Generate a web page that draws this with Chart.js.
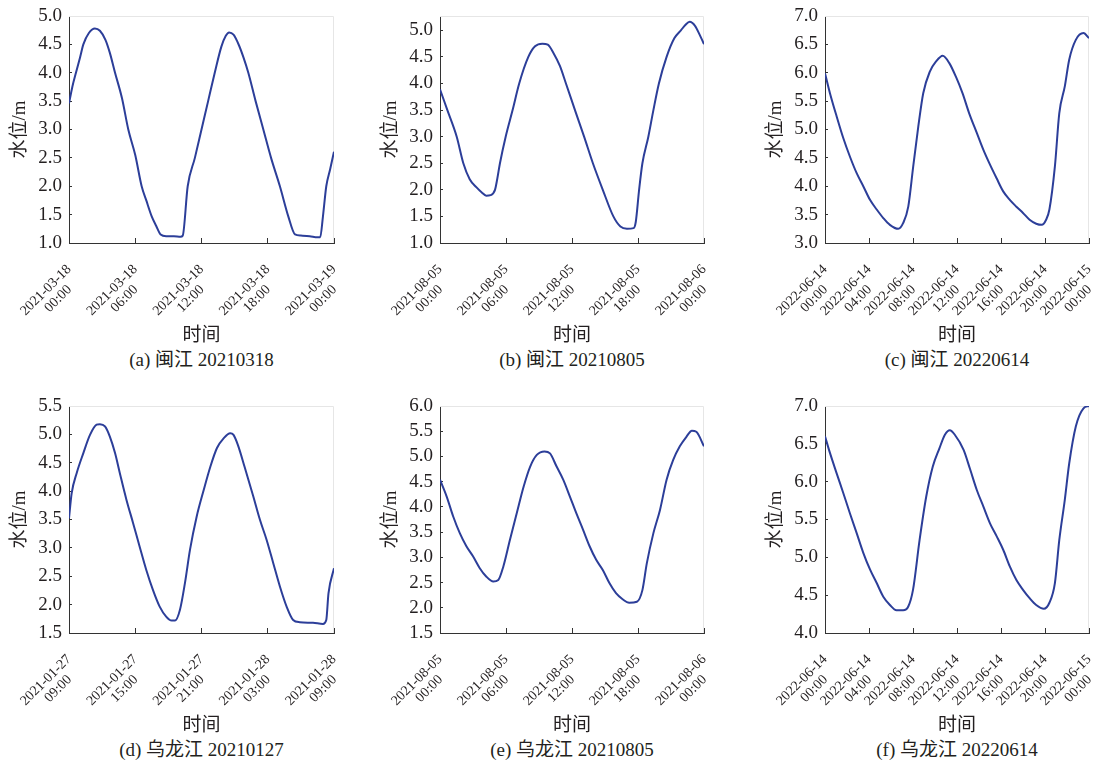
<!DOCTYPE html>
<html>
<head>
<meta charset="utf-8">
<script src="https://cdn.jsdelivr.net/npm/chart.js@4.4.0/dist/chart.umd.min.js"></script>
<style>
  html, body { margin: 0; padding: 0; background: #fff; overflow: hidden; }
  canvas { position: absolute; }
  .cap {
    position: absolute;
    width: 300px;
    margin-left: -150px;
    text-align: center;
    font-family: 'Liberation Serif', 'Noto Sans CJK SC', serif;
    font-size: 19px;
    line-height: 22px;
    color: #231f20;
  }
  #warm { position: absolute; left: -999px; top: 0; font-family: 'Liberation Serif'; }
</style>
</head>
<body>
<span id="warm">2021-03-18 00:00 水位/m 时间</span>
<script>
// 数据：[小时, 水位(m)]
const seriesA = [[0,3.46],[0.3,3.75],[0.63,4.0],[1.0,4.27],[1.3,4.5],[1.8,4.7],[2.35,4.78],[2.8,4.74],[3.3,4.58],[3.7,4.35],[4.17,4.0],[4.8,3.55],[5.37,3.0],[6.0,2.55],[6.58,2.0],[7.0,1.75],[7.49,1.47],[7.9,1.3],[8.3,1.15],[8.8,1.12],[9.5,1.12],[10.1,1.11],[10.3,1.13],[10.75,2.0],[11.4,2.5],[12.0,3.0],[12.6,3.5],[13.2,4.0],[13.8,4.46],[14.2,4.65],[14.5,4.71],[14.9,4.67],[15.4,4.48],[15.8,4.27],[16.24,4.0],[16.9,3.5],[17.6,3.0],[18.3,2.5],[19.1,2.0],[19.86,1.47],[20.47,1.15],[21.0,1.13],[21.8,1.12],[22.5,1.1],[22.75,1.1],[23.0,1.47],[23.3,2.0],[23.65,2.3],[24,2.61]];
const seriesB = [[0,3.89],[0.67,3.5],[1.52,3.0],[2.12,2.5],[2.7,2.2],[3.3,2.05],[3.8,1.95],[4.2,1.89],[4.6,1.9],[5.0,2.0],[5.2,2.2],[5.45,2.5],[5.97,3.0],[6.6,3.5],[7.2,4.0],[8.03,4.5],[8.64,4.7],[9.3,4.75],[9.8,4.73],[10.3,4.58],[10.9,4.33],[11.45,4.0],[12.27,3.5],[13.1,3.0],[13.9,2.5],[14.8,2.0],[15.76,1.5],[16.4,1.31],[17.0,1.27],[17.6,1.28],[17.8,1.4],[18.1,2.0],[18.4,2.5],[18.94,3.0],[19.4,3.5],[19.9,4.0],[20.6,4.5],[21.3,4.85],[21.9,5.0],[22.3,5.1],[22.7,5.16],[23.2,5.08],[23.6,4.92],[24,4.74]];
const seriesC = [[0,5.99],[0.45,5.64],[1.06,5.23],[1.66,4.85],[2.27,4.52],[2.88,4.23],[3.48,4.0],[4.09,3.76],[4.7,3.59],[5.3,3.44],[5.9,3.32],[6.66,3.25],[7.1,3.35],[7.57,3.64],[8.02,4.35],[8.48,5.05],[8.93,5.64],[9.53,6.02],[10.1,6.2],[10.7,6.3],[11.3,6.17],[11.9,5.93],[12.5,5.64],[13.1,5.29],[13.8,4.94],[14.4,4.64],[15.0,4.38],[15.6,4.14],[16.2,3.91],[16.8,3.76],[17.4,3.64],[18.0,3.53],[18.6,3.41],[19.2,3.34],[19.7,3.32],[20.1,3.41],[20.4,3.59],[20.9,4.35],[21.3,5.29],[21.8,5.76],[22.2,6.23],[22.8,6.58],[23.5,6.7],[24,6.61]];
const seriesD = [[0,3.52],[0.24,3.96],[0.7,4.32],[1.3,4.67],[1.9,4.99],[2.5,5.17],[2.8,5.18],[3.26,5.14],[3.7,4.96],[4.17,4.67],[4.6,4.32],[5.2,3.85],[5.8,3.44],[6.4,3.02],[7.0,2.61],[7.6,2.26],[8.2,1.97],[8.8,1.79],[9.3,1.72],[9.6,1.72],[10.05,1.91],[10.5,2.38],[10.96,2.97],[11.56,3.55],[12.2,4.02],[12.8,4.43],[13.4,4.76],[14.0,4.93],[14.6,5.02],[14.9,4.99],[15.3,4.81],[15.9,4.43],[16.7,3.9],[17.3,3.49],[17.9,3.14],[18.5,2.73],[19.1,2.32],[19.7,1.97],[20.3,1.73],[20.9,1.69],[22.1,1.68],[23.0,1.66],[23.3,1.73],[23.5,2.2],[24,2.64]];
const seriesE = [[0,4.54],[0.6,4.21],[1.2,3.81],[1.8,3.48],[2.4,3.22],[3.0,3.02],[3.6,2.79],[4.2,2.62],[4.85,2.52],[5.3,2.55],[5.76,2.82],[6.36,3.35],[6.97,3.87],[7.6,4.4],[8.2,4.8],[8.8,5.03],[9.5,5.1],[10.0,5.06],[10.6,4.8],[11.2,4.54],[11.8,4.21],[12.4,3.87],[13.0,3.55],[13.6,3.22],[14.2,2.95],[14.8,2.75],[15.4,2.49],[16.0,2.29],[16.6,2.17],[17.2,2.1],[17.9,2.12],[18.4,2.35],[18.8,2.88],[19.4,3.48],[20.0,3.94],[20.6,4.54],[21.2,4.93],[21.8,5.2],[22.4,5.39],[22.9,5.51],[23.3,5.49],[24,5.2]];
const seriesF = [[0,6.6],[0.45,6.38],[1.06,6.11],[1.66,5.85],[2.27,5.58],[2.88,5.32],[3.48,5.06],[4.09,4.84],[4.7,4.66],[5.3,4.48],[5.9,4.37],[6.5,4.3],[7.1,4.3],[7.57,4.35],[8.0,4.57],[8.6,5.23],[9.2,5.8],[9.8,6.2],[10.4,6.44],[10.9,6.62],[11.35,6.68],[11.8,6.62],[12.6,6.42],[13.2,6.16],[13.8,5.89],[14.4,5.67],[15.0,5.45],[15.6,5.28],[16.2,5.1],[16.8,4.88],[17.4,4.7],[18.0,4.57],[18.6,4.46],[19.2,4.37],[19.9,4.32],[20.4,4.4],[20.9,4.66],[21.3,5.23],[21.8,5.76],[22.2,6.24],[22.8,6.73],[23.5,6.97],[24,7.0]];

// 横轴刻度标签
const ticksA = ['2021-03-18 00:00', '2021-03-18 06:00', '2021-03-18 12:00', '2021-03-18 18:00', '2021-03-19 00:00'];
const ticksB = ['2021-08-05 00:00', '2021-08-05 06:00', '2021-08-05 12:00', '2021-08-05 18:00', '2021-08-06 00:00'];
const ticksC = ['2022-06-14 00:00', '2022-06-14 04:00', '2022-06-14 08:00', '2022-06-14 12:00', '2022-06-14 16:00', '2022-06-14 20:00', '2022-06-15 00:00'];
const ticksD = ['2021-01-27 09:00', '2021-01-27 15:00', '2021-01-27 21:00', '2021-01-28 03:00', '2021-01-28 09:00'];
const ticksE = ticksB;
const ticksF = ticksC;

// 纵轴范围
const yRangeA = [1.0, 5.0];
const yRangeB = [1.0, 5.27];
const yRangeC = [3.0, 7.0];
const yRangeD = [1.5, 5.5];
const yRangeE = [1.5, 6.0];
const yRangeF = [4.0, 7.0];

const captions = ['(a) 闽江 20210318', '(b) 闽江 20210805', '(c) 闽江 20220614',
                  '(d) 乌龙江 20210127', '(e) 乌龙江 20210805', '(f) 乌龙江 20220614'];

const serif = "'Liberation Serif', 'Noto Sans CJK SC', serif";
const ink = '#231f20';
const blue = '#2c3e99';

// 版面位置
const colLeft = [69, 440, 825];
const colWidth = [265, 264, 264];
const rowTop = [16, 406];
const plotH = 227;
const yAxisW = 62;
const xAxisH = 104;
const padTop = 14;
const padRight = 10;

// 绘图区浅色上、右边框
const framePlugin = {
  id: 'frame',
  beforeDatasetsDraw(chart) {
    const { ctx, chartArea: a } = chart;
    ctx.save();
    ctx.strokeStyle = '#e6e6e6';
    ctx.lineWidth = 1;
    ctx.beginPath();
    ctx.moveTo(a.left, a.top + 0.5);
    ctx.lineTo(a.right - 0.5, a.top + 0.5);
    ctx.lineTo(a.right - 0.5, a.bottom);
    ctx.stroke();
    ctx.restore();
  }
};

function makePanel(series, tickLabels, yRange, caption, col, row) {
  const canvas = document.createElement('canvas');
  const w = yAxisW + colWidth[col] + padRight;
  const h = padTop + plotH + xAxisH;
  canvas.width = w;
  canvas.height = h;
  canvas.style.width = w + 'px';
  canvas.style.height = h + 'px';
  canvas.style.left = (colLeft[col] - yAxisW) + 'px';
  canvas.style.top = (rowTop[row] - padTop) + 'px';
  document.body.appendChild(canvas);

  const step = 24 / (tickLabels.length - 1);

  new Chart(canvas, {
    type: 'line',
    data: {
      datasets: [{
        data: series.map(p => ({ x: p[0], y: p[1] })),
        borderColor: blue,
        borderWidth: 2,
        pointRadius: 0,
        cubicInterpolationMode: 'monotone',
        fill: false
      }]
    },
    options: {
      responsive: false,
      animation: false,
      events: [],
      layout: { padding: { top: padTop, right: padRight, left: 0, bottom: 0 } },
      plugins: { legend: { display: false }, tooltip: { enabled: false } },
      scales: {
        x: {
          type: 'linear',
          min: 0,
          max: 24,
          ticks: {
            stepSize: step,
            autoSkip: false,
            maxRotation: 45,
            minRotation: 45,
            padding: 24,
            color: ink,
            font: { family: serif, size: 14, lineHeight: 1.05 },
            callback: v => {
              const t = tickLabels[Math.round(v / step)];
              if (!t) return '';
              const parts = t.split(' ');
              // 第二行向左补空格，使两行居中对齐
              return [parts[0], parts[1] + '    '];
            }
          },
          grid: { drawOnChartArea: false, tickLength: -5, color: '#333' },
          border: { color: '#333', width: 1 },
          title: { display: true, text: '时间', color: ink, font: { family: serif, size: 19 }, padding: 0 },
          afterFit: s => {
            s.height = xAxisH;
            s.paddingLeft = 0;
            s.paddingRight = 0;
          }
        },
        y: {
          min: yRange[0],
          max: yRange[1],
          ticks: {
            autoSkip: false,
            padding: 10,
            color: ink,
            font: { family: serif, size: 19 },
            callback: v => v.toFixed(1)
          },
          afterBuildTicks: s => {
            const list = [];
            for (let v = yRange[0]; v <= yRange[1] + 1e-9; v += 0.5) {
              list.push({ value: Math.round(v * 10) / 10 });
            }
            s.ticks = list;
          },
          grid: { drawOnChartArea: false, tickLength: -3, color: '#333' },
          border: { color: '#333', width: 1 },
          title: { display: true, text: '水位/m', color: ink, font: { family: serif, size: 19 }, padding: { top: 2, bottom: 0 } },
          afterFit: s => {
            s.width = yAxisW;
            s.paddingTop = 0;
            s.paddingBottom = 0;
          }
        }
      }
    },
    plugins: [framePlugin]
  });

  const cap = document.createElement('div');
  cap.className = 'cap';
  cap.textContent = caption;
  cap.style.left = (colLeft[col] + colWidth[col] / 2) + 'px';
  cap.style.top = (rowTop[row] + plotH + 117 - 11) + 'px';
  document.body.appendChild(cap);
}

function drawAll() {
  makePanel(seriesA, ticksA, yRangeA, captions[0], 0, 0);
  makePanel(seriesB, ticksB, yRangeB, captions[1], 1, 0);
  makePanel(seriesC, ticksC, yRangeC, captions[2], 2, 0);
  makePanel(seriesD, ticksD, yRangeD, captions[3], 0, 1);
  makePanel(seriesE, ticksE, yRangeE, captions[4], 1, 1);
  makePanel(seriesF, ticksF, yRangeF, captions[5], 2, 1);
}

Promise.all([
  document.fonts.load("14px 'Liberation Serif'"),
  document.fonts.load("19px 'Noto Sans CJK SC'", '水位时间')
]).then(drawAll, drawAll);
</script>
</body>
</html>
